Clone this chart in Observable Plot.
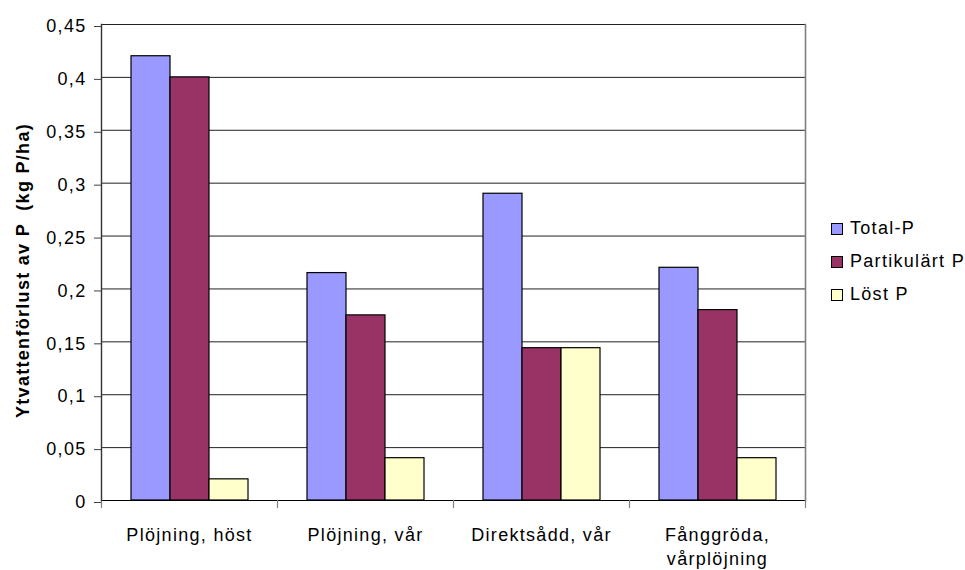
<!DOCTYPE html>
<html>
<head>
<meta charset="utf-8">
<script src="https://cdn.jsdelivr.net/npm/d3@7"></script>
<script src="https://cdn.jsdelivr.net/npm/@observablehq/plot@0.6"></script>
<style>
  html, body { margin: 0; padding: 0; background: #fff; }
  #wrap { position: relative; width: 965px; height: 570px; font-family: "Liberation Sans", Arial, sans-serif; }
  #legend { position: absolute; left: 831px; top: 212px; font-size: 18px; letter-spacing: 1.3px; color: #000; }
  .row { display: flex; align-items: center; height: 33px; white-space: nowrap; }
  .sw { width: 12px; height: 12px; box-sizing: border-box; border: 1px solid #000; margin-right: 7px; flex: none; }
</style>
</head>
<body>
<div id="wrap"></div>
<script>
const categories = ["Plöjning, höst", "Plöjning, vår", "Direktsådd, vår", "Fånggröda,\nvårplöjning"];
const series = ["Total-P", "Partikulärt P", "Löst P"];
const totalP = [0.42, 0.215, 0.29, 0.22];
const partikulartP = [0.40, 0.175, 0.144, 0.18];
const lostP = [0.02, 0.04, 0.144, 0.04];
const colors = ["#9999FF", "#993366", "#FFFFCC"];
const yTicks = [0, 0.05, 0.1, 0.15, 0.2, 0.25, 0.3, 0.35, 0.4, 0.45];
const yLabel = "Ytvattenförlust av P  (kg P/ha)";

const seriesValues = [totalP, partikulartP, lostP];
const data = categories.flatMap((c, i) =>
  series.map((s, j) => ({category: c, series: s, value: seriesValues[j][i]}))
);
const fmt = d => String(d).replace(".", ",");

const chart = Plot.plot({
  width: 965,
  height: 570,
  marginLeft: 100,
  marginRight: 160,
  marginTop: 24,
  marginBottom: 70,
  style: {fontFamily: "'Liberation Sans', Arial, sans-serif", fontSize: "18px", color: "#000", background: "#fff", letterSpacing: "1.3px"},
  fx: {domain: categories, padding: 0, label: null, axis: null},
  x: {domain: series, paddingInner: 0, paddingOuter: 0.75, axis: null},
  y: {domain: [0, 0.45], label: null},
  color: {domain: series, range: colors},
  marks: [
    Plot.ruleY(yTicks.slice(1), {stroke: "#222", strokeWidth: 1}),
    Plot.barY(data, {fx: "category", x: "series", y: "value", fill: "series", stroke: "#000", strokeWidth: 1.2}),
    Plot.ruleY([0], {stroke: "#000", strokeWidth: 1.2}),
    Plot.frame({anchor: "left", stroke: "#808080", strokeWidth: 1.2, insetTop: 476, insetBottom: -7}),
    Plot.frame({anchor: "right", facetAnchor: "right", stroke: "#808080", strokeWidth: 1.2, insetTop: 476, insetBottom: -7}),
    Plot.frame({anchor: "right", facetAnchor: "right", stroke: "#808080", strokeWidth: 1.6}),
    Plot.frame({anchor: "left", facetAnchor: "left", stroke: "#333", strokeWidth: 1.4}),
    Plot.axisY({ticks: yTicks, tickFormat: fmt, tickSize: 7, tickPadding: 8, stroke: "#404040", label: null, dy: 2}),
    Plot.axisFx({anchor: "bottom", tickSize: 0, tickPadding: 23, lineHeight: 1.36, label: null}),
    Plot.text([yLabel], {facetAnchor: "left", frameAnchor: "left", textAnchor: "middle", lineAnchor: "middle", dx: -78, dy: 8, rotate: -90, fontWeight: "bold", fontSize: 18, letterSpacing: "1px"})
  ]
});

const wrap = document.getElementById("wrap");
wrap.appendChild(chart);

const legend = document.createElement("div");
legend.id = "legend";
series.forEach((s, i) => {
  const row = document.createElement("div");
  row.className = "row";
  const sw = document.createElement("span");
  sw.className = "sw";
  sw.style.background = colors[i];
  const label = document.createElement("span");
  label.textContent = s;
  row.appendChild(sw);
  row.appendChild(label);
  legend.appendChild(row);
});
wrap.appendChild(legend);
</script>
</body>
</html>
